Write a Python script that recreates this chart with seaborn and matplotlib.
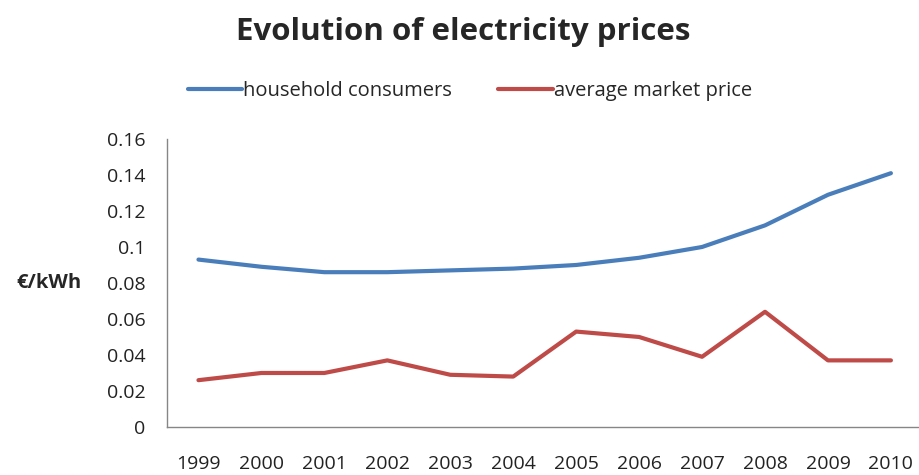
import pandas as pd
import matplotlib
matplotlib.use("Agg")
import matplotlib.pyplot as plt
import seaborn as sns

# data
years = ["1999", "2000", "2001", "2002", "2003", "2004",
         "2005", "2006", "2007", "2008", "2009", "2010"]
household = [0.093, 0.089, 0.086, 0.086, 0.087, 0.088,
             0.090, 0.094, 0.100, 0.112, 0.129, 0.141]
market = [0.026, 0.030, 0.030, 0.037, 0.029, 0.028,
          0.053, 0.050, 0.039, 0.064, 0.037, 0.037]

df = pd.DataFrame({
    "x": list(range(len(years))) * 2,
    "price": household + market,
    "series": ["household consumers"] * len(years) + ["average market price"] * len(years),
})

sns.set_style("white")
plt.rcParams["font.family"] = ["Open Sans", "DejaVu Sans"]

fig = plt.figure(figsize=(9.19, 4.75), dpi=100)
ax = fig.add_axes([0.1817, 0.1011, 0.822, 0.6063])

sns.lineplot(data=df, x="x", y="price", hue="series",
             palette={"household consumers": "#4A7EBB", "average market price": "#BE4B48"},
             linewidth=3, ax=ax, legend=True)

ax.set_xlim(-0.5, len(years) - 0.5)
ax.set_ylim(0, 0.16)
ax.set_yticks([0, 0.02, 0.04, 0.06, 0.08, 0.1, 0.12, 0.14, 0.16])
ax.set_yticklabels(["0", "0.02", "0.04", "0.06", "0.08", "0.1", "0.12", "0.14", "0.16"])
ax.set_xticks(range(len(years)))
ax.set_xticklabels(years)
ax.set_xticks([i - 0.5 for i in range(len(years) + 1)], minor=True)
ax.tick_params(axis="x", which="major", length=0, pad=20, labelsize=14, labelcolor="#222222")
ax.tick_params(axis="x", which="minor", length=4.5, color="#868686", direction="out")
ax.tick_params(axis="y", length=4.5, color="#868686", direction="out", labelsize=14,
               labelcolor="#222222", pad=11)

for s in ["top", "right"]:
    ax.spines[s].set_visible(False)
for s in ["left", "bottom"]:
    ax.spines[s].set_color("#868686")
    ax.spines[s].set_linewidth(1)

ax.set_xlabel("")
ax.set_ylabel("€/kWh", rotation=0, fontsize=14.5, fontweight="bold", labelpad=18,
              va="center", ha="right")

ax.legend(loc="center", bbox_to_anchor=(0.401, 1.167),
          ncol=2, frameon=False, fontsize=14.5, handlelength=2.7, handletextpad=0.05,
          columnspacing=2.3)

fig.suptitle("Evolution of electricity prices", x=0.504, y=0.933,
             fontsize=22.5, fontweight="bold", va="center")

fig.savefig("out.png", dpi=100)
